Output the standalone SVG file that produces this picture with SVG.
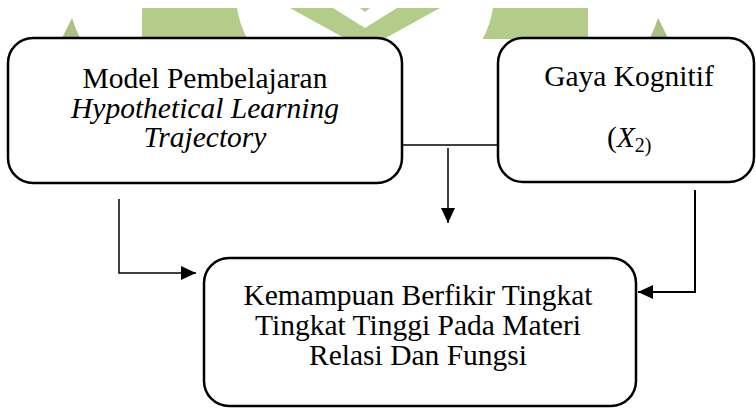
<svg xmlns="http://www.w3.org/2000/svg" width="756" height="409" viewBox="0 0 756 409">
<style>
.box{fill:#fff;stroke:#000;stroke-width:2.5}
.t{font-family:"Liberation Serif","Times New Roman",serif;font-size:29.5px;fill:#000;text-anchor:middle}
.i{font-style:italic}
.c{fill:none;stroke:#000;stroke-width:1.5}
.wm{fill:#b4cc8a}
.wm2{fill:#a9c184}
</style>
<defs>
<marker id="ah" markerUnits="userSpaceOnUse" markerWidth="16" markerHeight="14" refX="15" refY="7" orient="auto">
<path d="M0,0 L15,7 L0,14 Z" fill="#000"/>
</marker>
<clipPath id="wmclip"><rect x="0" y="8" width="756" height="31"/></clipPath>
</defs>
<g id="watermark" clip-path="url(#wmclip)">
<path class="wm2" d="M61,40 L72,18 Q75,28 81,40 Z"/>
<path class="wm2" d="M669,40 L658,18 Q655,28 649,40 Z"/>
<path class="wm" d="M142,8 H237 Q240,26 248,40 H142 Z"/>
<path class="wm" d="M588,8 H493 Q490,26 482,40 H588 Z"/>
<path class="wm" d="M290,8 L333,8 L365,28 L397,8 L440,8 L382,40 L348,40 Z"/>
<path class="wm" d="M360,8 L370,8 L365,12 Z"/>
</g>
<g id="connectors">
<path class="c" d="M402,145 H498"/>
<path class="c" d="M448,148 V223" marker-end="url(#ah)"/>
<path class="c" d="M119,199 V273 H196" marker-end="url(#ah)"/>
<path class="c" style="stroke-width:2" d="M695,190 V292 H638" marker-end="url(#ah)"/>
</g>
<g id="node-model">
<rect class="box" x="8" y="38" width="394" height="145" rx="25"/>
<text class="t" x="205" y="88">Model Pembelajaran</text>
<text class="t i" x="205" y="118">Hypothetical Learning</text>
<text class="t i" x="205" y="147">Trajectory</text>
</g>
<g id="node-gaya">
<rect class="box" x="498" y="38" width="256" height="144" rx="25"/>
<text class="t" x="629" y="86">Gaya Kognitif</text>
<text class="t" x="607" y="147" style="text-anchor:start">(<tspan font-style="italic">X</tspan><tspan font-size="20" dy="5">2)</tspan></text>
</g>
<g id="node-kemampuan">
<rect class="box" x="204" y="258" width="432" height="148" rx="25"/>
<text class="t" x="418" y="305">Kemampuan Berfikir Tingkat</text>
<text class="t" x="418" y="335">Tingkat Tinggi Pada Materi</text>
<text class="t" x="418" y="365">Relasi Dan Fungsi</text>
</g>
</svg>
